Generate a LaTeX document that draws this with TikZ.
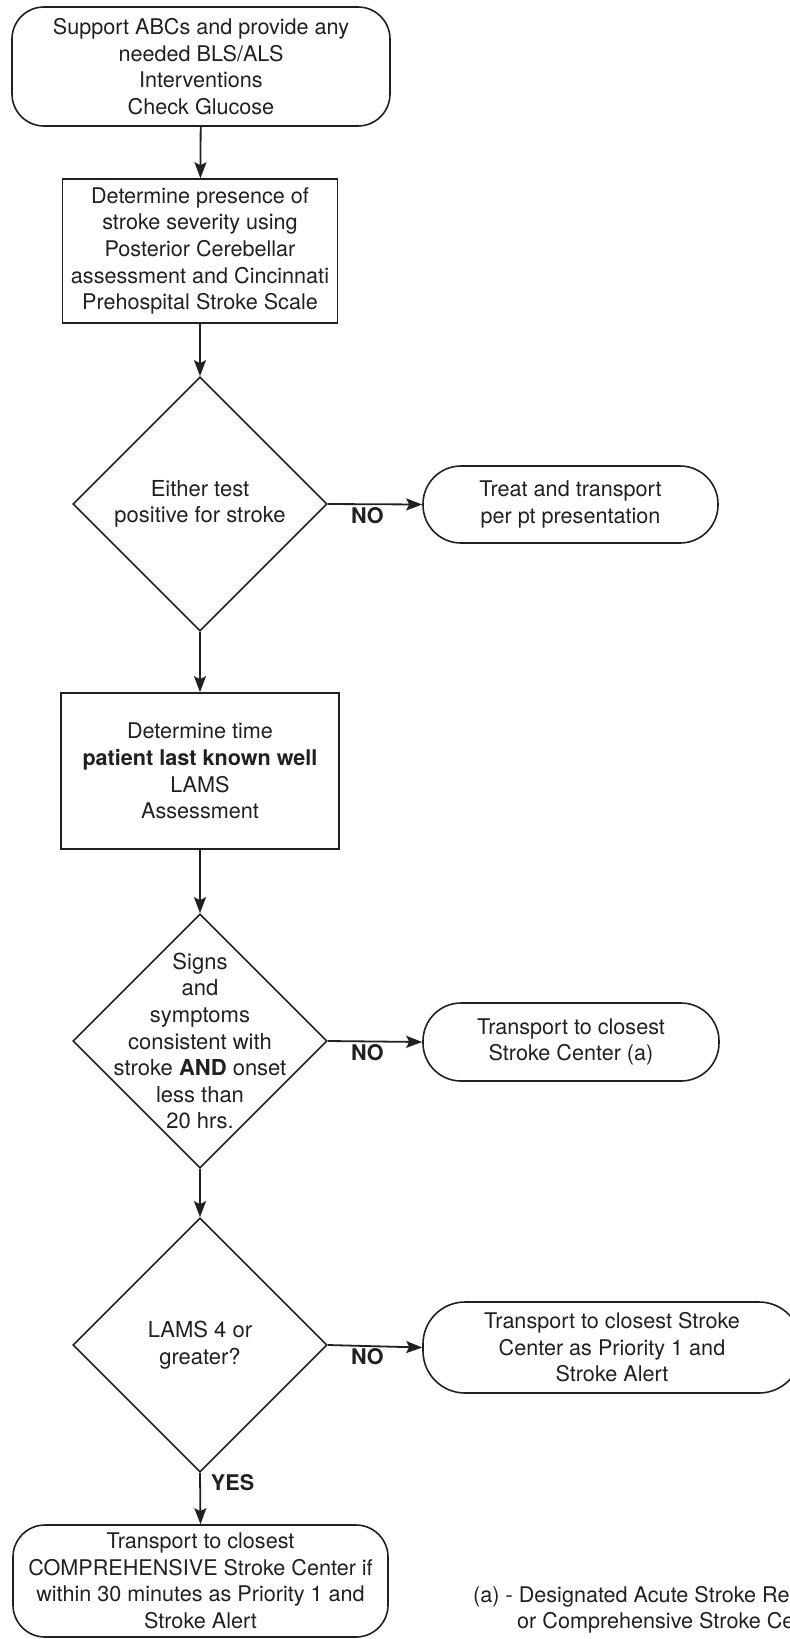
\documentclass[tikz,border=0pt]{standalone}
\usepackage{fontspec}
\setmainfont{TeX Gyre Heros}
\usetikzlibrary{shapes.geometric,arrows.meta}
\definecolor{ink}{RGB}{35,31,32}
\begin{document}
\begin{tikzpicture}[x=1pt,y=-1pt,
  every node/.style={font=\fontsize{21.6}{26.6}\selectfont, text=ink},
  base/.style={draw=ink, line width=1.6pt, align=center, inner sep=0pt},
  rbox/.style={base, rectangle, rounded corners=32pt},
  pill/.style={base, rectangle, rounded corners=38pt},
  sqbox/.style={base, rectangle},
  dia/.style={base, diamond, minimum width=254pt, minimum height=254pt},
  arr/.style={draw=ink, line width=1.8pt, -{Stealth[length=16pt,width=12pt,inset=3pt]}},
  lbl/.style={font=\fontsize{21.6}{24}\selectfont\bfseries, inner sep=2pt},
  diatext/.style={align=center, inner sep=0pt, font=\fontsize{22}{26.6}\selectfont},
]
\useasboundingbox (0,0) rectangle (790,1639);
\clip (0,0) rectangle (790,1639);

\node[rbox, minimum width=378pt, minimum height=119pt] (start) at (201,66.5)
  {Support ABCs and provide any\\needed BLS/ALS\\Interventions\\Check Glucose};
\node[sqbox, minimum width=275pt, minimum height=144pt] (sev) at (200,251)
  {Determine presence of\\stroke severity using\\Posterior Cerebellar\\assessment and Cincinnati\\Prehospital Stroke Scale};
\node[dia] (d1) at (200,504) {};
\node[diatext] (d1t) at (d1) {Either test\\positive for stroke};
\node[pill, minimum width=295pt, minimum height=77pt] (treat) at (570.5,504.5)
  {Treat and transport\\per pt presentation};
\node[sqbox, minimum width=278pt, minimum height=156pt] (lkw) at (200,771)
  {Determine time\\\textbf{patient last known well}\\LAMS\\Assessment};
\node[dia] (d2) at (200,1041) {};
\node[diatext] (d2t) at (d2) {Signs\\and\\symptoms\\consistent with\\stroke \textbf{AND} onset\\less than\\20 hrs.};
\node[pill, minimum width=296pt, minimum height=78pt] (closest) at (571,1042)
  {Transport to closest\\Stroke Center (a)};
\node[dia] (d3) at (200,1345) {};
\node[diatext] (d3t) at (d3) {LAMS 4 or\\greater?};
\node[pill, rounded corners=42pt, minimum width=378pt, minimum height=91pt] (prio) at (612,1347.5)
  {Transport to closest Stroke\\Center as Priority 1 and\\Stroke Alert};
\node[rbox, minimum width=375pt, minimum height=112pt] (comp) at (200.5,1581)
  {Transport to closest\\COMPREHENSIVE Stroke Center if\\within 30 minutes as Priority 1 and\\Stroke Alert};

\node[anchor=base west, inner sep=0pt] (fn1) at (473,1602) {(a) - Designated Acute Stroke Ready,};
\node[anchor=base west, inner sep=0pt] (fn2) at (517,1628) {or Comprehensive Stroke Center};

\draw[arr] (start) -- (sev);
\draw[arr] (sev) -- (d1);
\draw[arr] (d1.east) -- node[lbl, below, pos=0.42] {NO} (treat.west);
\draw[arr] (d1) -- (lkw);
\draw[arr] (lkw) -- (d2);
\draw[arr] (d2.east) -- node[lbl, below, pos=0.42] {NO} (closest.west);
\draw[arr] (d2) -- (d3);
\draw[arr] (d3.east) -- node[lbl, below, pos=0.42] {NO} (prio.west);
\draw[arr] (d3.south) -- node[lbl, right, pos=0.19, xshift=8pt] {YES} (comp.north);
\end{tikzpicture}
\end{document}
